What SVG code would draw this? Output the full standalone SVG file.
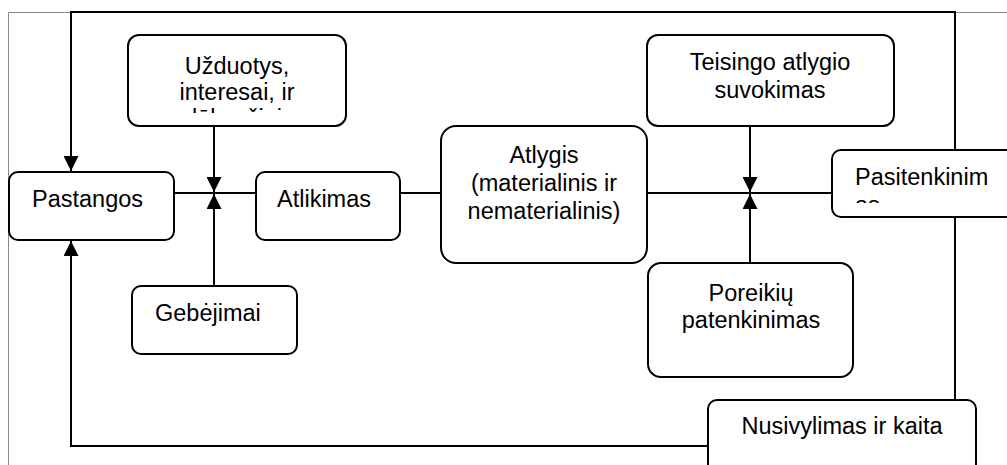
<svg xmlns="http://www.w3.org/2000/svg" width="1007" height="465" viewBox="0 0 1007 465">
  <style>
    .box { fill: #fff; stroke: #000; stroke-width: 2; }
    .lbl { font-family: "Liberation Sans", Arial, sans-serif; font-size: 23.5px; fill: #000; }
    .mid { text-anchor: middle; }
    .wire { fill: none; stroke: #000; stroke-width: 2; }
    .frame { fill: none; stroke: #8a8a8a; stroke-width: 1; }
  </style>
  <defs>
    <marker id="arrow" viewBox="0 0 10 10" refX="10" refY="5" markerWidth="7.5" markerHeight="7.5" markerUnits="strokeWidth" orient="auto">
      <path d="M0,0 L10,5 L0,10 Z" fill="#000"/>
    </marker>
    <clipPath id="clip-uzduotys"><rect x="128" y="35" width="218" height="78"/></clipPath>
    <clipPath id="clip-pasitenkinimas"><rect x="832" y="150" width="175" height="53"/></clipPath>
  </defs>

  <rect width="1007" height="465" fill="#fff"/>
  <!-- page frame -->
  <path class="frame" d="M8.5,465 V12.5 H1007"/>

  <!-- connectors -->
  <g id="connectors">
    <path class="wire" d="M955,150 V12 H71 V171" marker-end="url(#arrow)"/>
    <path class="wire" d="M955,217 V400"/>
    <path class="wire" d="M708,446 H71 V241" marker-end="url(#arrow)"/>
    <path class="wire" d="M174,193 H256"/>
    <path class="wire" d="M214,126 V192" marker-end="url(#arrow)"/>
    <path class="wire" d="M214,286 V194" marker-end="url(#arrow)"/>
    <path class="wire" d="M400,193 H441"/>
    <path class="wire" d="M647,193 H832"/>
    <path class="wire" d="M750,126 V192" marker-end="url(#arrow)"/>
    <path class="wire" d="M750,263 V194" marker-end="url(#arrow)"/>
  </g>

  <g id="pastangos">
    <rect class="box" x="9" y="172" width="165" height="68" rx="9"/>
    <text class="lbl" x="32" y="207">Pastangos</text>
  </g>

  <g id="uzduotys">
    <rect class="box" x="128" y="35" width="218" height="91" rx="11"/>
    <g clip-path="url(#clip-uzduotys)">
      <text class="lbl mid" x="237" y="74">Užduotys,</text>
      <text class="lbl mid" x="237" y="100">interesai, ir</text>
      <text class="lbl mid" x="237" y="126">lūkesčiai</text>
    </g>
  </g>

  <g id="gebejimai">
    <rect class="box" x="132" y="286" width="165" height="68" rx="9"/>
    <text class="lbl" x="155" y="321">Gebėjimai</text>
  </g>

  <g id="atlikimas">
    <rect class="box" x="256" y="172" width="144" height="68" rx="9"/>
    <text class="lbl" x="277" y="207">Atlikimas</text>
  </g>

  <g id="atlygis">
    <rect class="box" x="441" y="126" width="206" height="137" rx="15"/>
    <text class="lbl mid" x="544" y="163">Atlygis</text>
    <text class="lbl mid" x="544" y="191">(materialinis ir</text>
    <text class="lbl mid" x="544" y="219">nematerialinis)</text>
  </g>

  <g id="teisingo">
    <rect class="box" x="647" y="35" width="247" height="91" rx="11"/>
    <text class="lbl mid" x="770" y="70">Teisingo atlygio</text>
    <text class="lbl mid" x="770" y="98">suvokimas</text>
  </g>

  <g id="pasitenkinimas">
    <rect class="box" x="832" y="150" width="190" height="67" rx="9"/>
    <g clip-path="url(#clip-pasitenkinimas)">
      <text class="lbl" x="855" y="185">Pasitenkinim</text>
      <text class="lbl" x="855" y="213">as</text>
    </g>
  </g>

  <g id="poreikiu">
    <rect class="box" x="648" y="263" width="205" height="114" rx="13"/>
    <text class="lbl mid" x="751" y="301">Poreikių</text>
    <text class="lbl mid" x="751" y="328">patenkinimas</text>
  </g>

  <g id="nusivylimas">
    <rect class="box" x="708" y="400" width="268" height="80" rx="9"/>
    <text class="lbl mid" x="842" y="434">Nusivylimas ir kaita</text>
  </g>
</svg>
